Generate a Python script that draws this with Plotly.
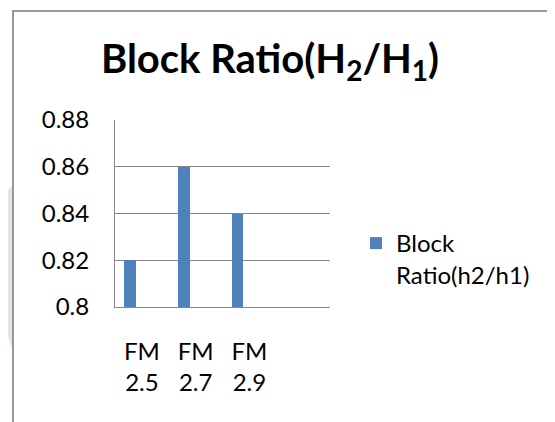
import plotly.graph_objects as go

categories = ["FM<br>2.5", "FM<br>2.7", "FM<br>2.9"]
block_ratio = [0.82, 0.86, 0.84]
y_ticks = [0.80, 0.82, 0.84, 0.86, 0.88]
y_tick_labels = ["0.8", "0.82", "0.84", "0.86", "0.88"]

# the page body keeps its default 8px margin, so work in page pixels and shift
OFF = 8
W, H = 555 - OFF, 422 - OFF
L, R, T, B = 115, 330, 120, 307  # plot area, page pixels


def px(x):
    return (x - L) / (R - L)


def py(y):
    return (B - y) / (B - T)


FONT = "Lato"
GRID = "#868686"

fig = go.Figure()
fig.add_trace(
    go.Bar(
        x=categories,
        y=block_ratio,
        name="Block<br>Ratio(h2/h1)",
        marker=dict(color="#4f81bd", line=dict(width=0)),
        width=0.22,
        offset=-0.33,
    )
)

shapes = [
    # chart frame (only its left and top edges are inside the window)
    dict(
        type="rect",
        x0=px(13), x1=px(640), y0=py(11), y1=py(500),
        line=dict(color="#999999", width=2),
        fillcolor="rgba(0,0,0,0)",
    ),
    # faint watermark at the left edge
    dict(
        type="path",
        path=f"M {px(-2)},{py(200)} L {px(12)},{py(186)} L {px(12)},{py(350)} "
        f"L {px(-2)},{py(300)} Z",
        fillcolor="#dfe3ea",
        line=dict(width=0),
        layer="below",
    ),
]
for s in shapes:
    s["xref"] = "paper"
    s["yref"] = "paper"

fig.update_layout(
    width=W,
    height=H,
    margin=dict(l=L - OFF, r=555 - R, t=T - OFF, b=422 - B, autoexpand=False),
    paper_bgcolor="white",
    plot_bgcolor="white",
    font=dict(family=FONT, size=24, color="black"),
    title=dict(
        text="<b>Block Ratio(H<sub>2</sub>/H<sub>1</sub>)</b>",
        font=dict(family=FONT, size=40, color="black"),
        xref="container",
        yref="container",
        x=(270 - OFF) / W,
        xanchor="center",
        y=1 - (59 - OFF) / H,
        yanchor="middle",
    ),
    showlegend=True,
    legend=dict(
        x=px(356),
        y=py(221),
        xanchor="left",
        yanchor="top",
        valign="top",
        font=dict(family=FONT, size=24),
        bgcolor="rgba(0,0,0,0)",
    ),
    shapes=shapes,
    bargap=0,
)
fig.update_xaxes(
    type="category",
    range=[-0.5, 3.5],
    showline=True,
    linecolor=GRID,
    linewidth=1,
    showgrid=False,
    ticks="",
    ticklabelstandoff=23,
    tickfont=dict(family=FONT, size=24),
)
fig.update_yaxes(
    range=[0.8, 0.88],
    tickvals=y_ticks,
    ticktext=y_tick_labels,
    showline=True,
    linecolor=GRID,
    linewidth=1,
    showgrid=True,
    gridcolor=GRID,
    gridwidth=1,
    zeroline=False,
    ticks="",
    ticklabelstandoff=20,
    tickfont=dict(family=FONT, size=24),
)

fig.write_html("out.html")
